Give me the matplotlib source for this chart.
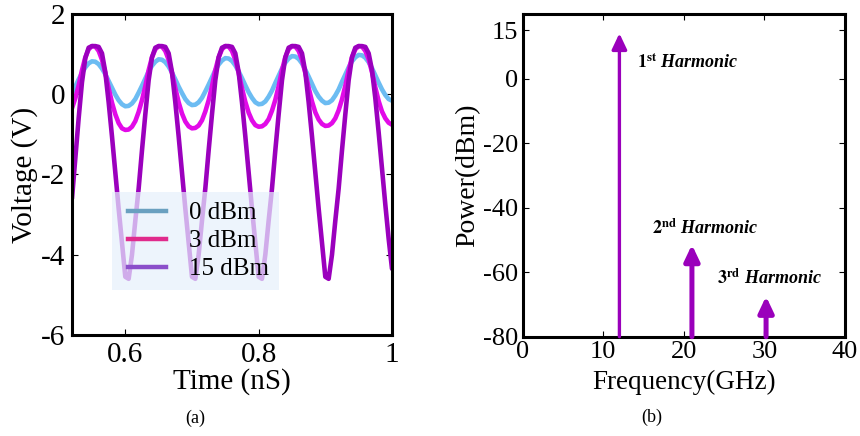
import numpy as np
import matplotlib
matplotlib.use("Agg")
import matplotlib.pyplot as plt
from matplotlib.lines import Line2D
from matplotlib.legend_handler import HandlerLine2D

plt.rcParams['font.family'] = ['Liberation Serif', 'DejaVu Serif']
plt.rcParams['mathtext.fontset'] = 'stix'
plt.rcParams['axes.unicode_minus'] = False

# ---------------- data: (a) output voltage waveforms ----------------
t_ns = np.linspace(0.52, 1.0, 97)   # sample times, 5 ps step

v_0dbm = [0.03, 0.19, 0.37, 0.53, 0.67, 0.77, 0.82, 0.81, 0.75, 0.64, 0.50, 0.33, 0.16, -0.01, -0.15, -0.25, -0.30,
          -0.29, -0.23, -0.12, 0.04, 0.21, 0.39, 0.57, 0.71, 0.81, 0.87, 0.86, 0.80, 0.69, 0.54, 0.37, 0.19, 0.03, -0.12, -0.22, -0.27,
          -0.26, -0.20, -0.09, 0.07, 0.24, 0.42, 0.60, 0.74, 0.84, 0.90, 0.89, 0.83, 0.72, 0.57, 0.40, 0.22, 0.05, -0.09, -0.20, -0.25,
          -0.24, -0.18, -0.06, 0.09, 0.28, 0.46, 0.64, 0.79, 0.89, 0.95, 0.94, 0.88, 0.77, 0.61, 0.44, 0.26, 0.08, -0.06, -0.16, -0.22,
          -0.21, -0.15, -0.03, 0.12, 0.31, 0.49, 0.67, 0.82, 0.92, 0.98, 0.97, 0.91, 0.80, 0.65, 0.47, 0.29, 0.12, -0.02, -0.12, -0.16]

v_3dbm = [-0.35, -0.10, 0.22, 0.60, 0.92, 1.12, 1.20, 1.19, 1.08, 0.86, 0.53, 0.15, -0.21, -0.50, -0.72, -0.85, -0.89,
          -0.88, -0.81, -0.67, -0.44, -0.15, 0.20, 0.60, 0.92, 1.12, 1.20, 1.19, 1.08, 0.86, 0.53, 0.15, -0.20, -0.48, -0.68, -0.80, -0.85,
          -0.84, -0.78, -0.65, -0.43, -0.15, 0.20, 0.60, 0.92, 1.12, 1.20, 1.19, 1.08, 0.86, 0.53, 0.15, -0.19, -0.46, -0.65, -0.77, -0.81,
          -0.80, -0.74, -0.62, -0.41, -0.14, 0.20, 0.60, 0.92, 1.12, 1.20, 1.19, 1.08, 0.86, 0.53, 0.16, -0.18, -0.45, -0.63, -0.74, -0.79,
          -0.78, -0.72, -0.60, -0.40, -0.13, 0.21, 0.60, 0.92, 1.12, 1.20, 1.19, 1.08, 0.87, 0.55, 0.17, -0.17, -0.43, -0.60, -0.71, -0.76]

v_15dbm = [-2.60, -1.60, -0.60, 0.30, 0.90, 1.16, 1.20, 1.20, 1.18, 1.02, 0.55, -0.20, -1.05, -1.95, -2.85, -3.70, -4.55,
           -4.60, -4.00, -3.15, -2.35, -1.40, -0.50, 0.35, 0.92, 1.16, 1.20, 1.20, 1.18, 1.02, 0.55, -0.20, -1.05, -1.95, -2.85, -3.70, -4.55,
           -4.60, -4.00, -3.15, -2.35, -1.40, -0.50, 0.35, 0.92, 1.16, 1.20, 1.20, 1.18, 1.02, 0.55, -0.20, -1.05, -1.95, -2.85, -3.70, -4.55,
           -4.60, -4.00, -3.15, -2.35, -1.40, -0.50, 0.35, 0.92, 1.16, 1.20, 1.20, 1.18, 1.02, 0.55, -0.20, -1.05, -1.95, -2.85, -3.70, -4.55,
           -4.60, -4.00, -3.15, -2.35, -1.40, -0.50, 0.35, 0.92, 1.16, 1.20, 1.20, 1.18, 1.02, 0.60, -0.10, -0.95, -1.85, -2.75, -3.60, -4.35]

series_labels = ['0 dBm', '3 dBm', '15 dBm']

# ---------------- data: (b) output spectrum ----------------
harm_freq = [12, 21, 30.2]          # GHz
harm_power = [14, -51.5, -67.5]     # dBm
harm_num = ['1', '2', '3']
harm_sup = ['st', 'nd', 'rd']
harm_text_xy = [(14.2, 5), (16.1, -46.5), (24.1, -62)]

fig = plt.figure(figsize=(8.6, 4.36), dpi=100)

# ====================== (a) ======================
ax1 = fig.add_axes([0.0837, 0.2317, 0.3721, 0.7362])
ax1.plot(t_ns, v_0dbm, color='#6cbcf2', lw=3.3, solid_capstyle='round', solid_joinstyle='round')
ax1.plot(t_ns, v_3dbm, color='#e20ae8', lw=3.3, solid_capstyle='round', solid_joinstyle='round')
ax1.plot(t_ns, v_15dbm, color='#9b00bd', lw=3.3, solid_capstyle='round', solid_joinstyle='round')
ax1.set_xlim(0.52, 1.0)
ax1.set_ylim(-6, 2)
ax1.set_xticks([0.6, 0.8, 1.0])
ax1.set_xticklabels(['0.6', '0.8', '1'])
ax1.set_yticks([-6, -4, -2, 0, 2])
ax1.tick_params(direction='in', top=True, right=True, length=4, width=0.8,
                labelsize=21, pad=5)
for s in ax1.spines.values():
    s.set_linewidth(2.2)
ax1.set_xlabel('Time (nS)', fontsize=21, labelpad=0)
ax1.set_ylabel('Voltage (V)', fontsize=21, labelpad=2)

leg_handles = [Line2D([], [], color='#6aa0c0', lw=3.2),
               Line2D([], [], color='#e02a8c', lw=3.2),
               Line2D([], [], color='#8b4fca', lw=3.2)]
leg = ax1.legend(leg_handles, series_labels, loc='upper left',
                 bbox_to_anchor=(0.124, 0.446), borderaxespad=0,
                 fontsize=18, frameon=True, fancybox=False,
                 handlelength=1.76, handletextpad=0.92, labelspacing=0.22,
                 borderpad=0.4,
                 handler_map={Line2D: HandlerLine2D(xpad=0.24)})
leg.get_frame().set_facecolor('#e6f0fc')
leg.get_frame().set_alpha(0.72)
leg.get_frame().set_edgecolor('none')

# ====================== (b) ======================
ax2 = fig.add_axes([0.6078, 0.2278, 0.3748, 0.7401])
arrow_color = '#9a00bb'
shaft_w = [2.4, 3.6, 3.6]
for f, p, w in zip(harm_freq, harm_power, shaft_w):
    ax2.annotate('', xy=(f, p), xytext=(f, -80),
                 arrowprops=dict(arrowstyle='-|>,head_width=0.45,head_length=0.95',
                                 color=arrow_color, lw=w, shrinkA=0, shrinkB=0),
                 annotation_clip=False)
for n, sup, (tx, ty) in zip(harm_num, harm_sup, harm_text_xy):
    ax2.text(tx, ty, r'$\mathbf{%s}^{\mathbf{%s}}$ Harmonic' % (n, sup),
             fontsize=13, fontweight='bold', fontstyle='italic',
             ha='left', va='center')
ax2.set_xlim(0, 40)
ax2.set_ylim(-80, 20)
ax2.set_xticks([0, 10, 20, 30, 40])
ax2.set_yticks([15, 0, -20, -40, -60, -80])
ax2.tick_params(direction='in', top=True, right=True, length=4, width=0.8,
                labelsize=19, pad=3)
for s in ax2.spines.values():
    s.set_linewidth(2.2)
ax2.set_xlabel('Frequency(GHz)', fontsize=19.5, labelpad=5)
ax2.set_ylabel('Power(dBm)', fontsize=20, labelpad=2)

fig.text(195 / 860, 1 - 418 / 436, '(a)', fontsize=13, ha='center', va='center')
fig.text(652 / 860, 1 - 417 / 436, '(b)', fontsize=13, ha='center', va='center')

fig.savefig('out.png', dpi=100)
